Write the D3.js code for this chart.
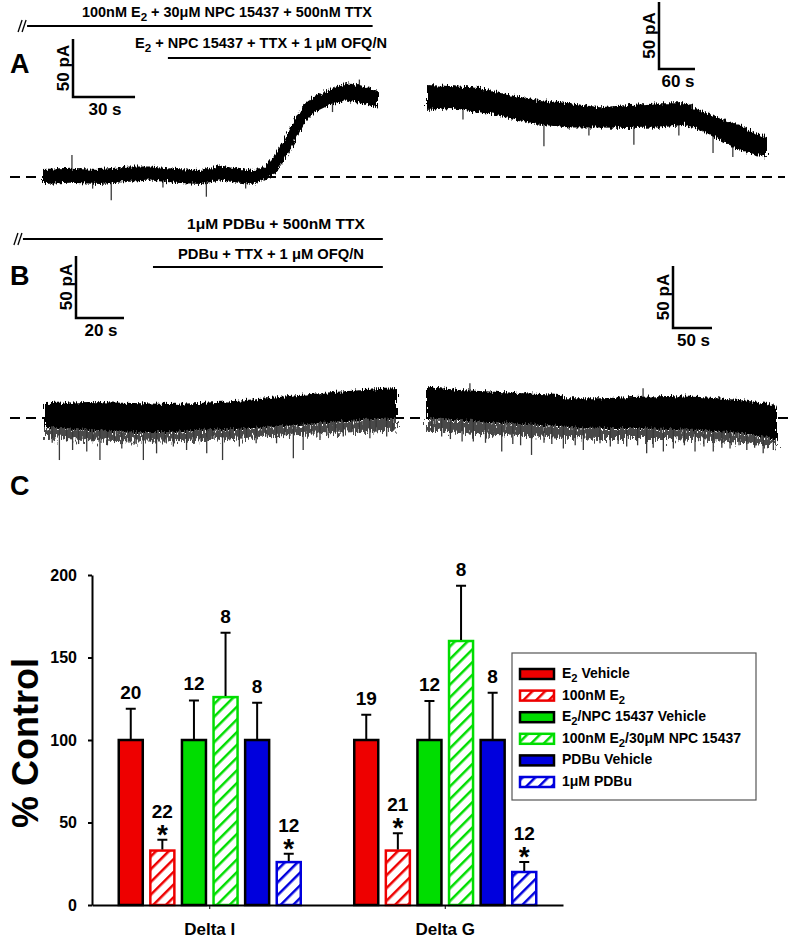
<!DOCTYPE html>
<html>
<head>
<meta charset="utf-8">
<script src="https://cdn.jsdelivr.net/npm/d3@7"></script>
<style>
body { margin: 0; background: #fff; }
svg text { font-family: Arial, "Liberation Sans", sans-serif; font-weight: bold; fill: #000; }
</style>
</head>
<body>
<script>
// ---- panel A traces (time in s, current in pA) ----
var a1Time = [0, 13, 27.5, 42, 52, 64, 76, 85.5, 95, 102, 107.5, 112.5, 117, 121.5, 126.5, 131.5, 138.5, 146, 153, 162];
var a1Low  = [-6, -5, -6, -4, -3, -5, -6, -3, -5, -6, -2, 4, 15, 30, 47, 56, 62, 66, 64, 60];
var a1High = [7, 8, 7, 9, 9, 7, 6, 10, 7, 6, 9, 20, 33, 50, 63, 70, 75, 81, 79, 74];
var a1SpikeTime = [14, 33, 79, 153, 24, 58, 98, 140];
var a1SpikeAmp  = [19, -20, -17, 84, -10, -9, -10, 56];

var a2Time = [0, 38, 88, 138, 188, 238, 288, 338, 388, 430, 455, 488, 522, 547, 567];
var a2Low  = [50, 51.5, 48.5, 44, 39, 37, 37, 36.6, 37, 39, 35, 27.6, 20, 16.4, 15];
var a2High = [68.7, 68, 66.4, 61, 57.5, 55, 52, 53.7, 55, 55, 50, 44, 38.8, 32.8, 30.6];
var a2SpikeTime = [195, 345, 477, 510, 60, 270, 420];
var a2SpikeAmp  = [23, 24, 18, 15, 43, 31, 31];

// ---- panel B traces ----
var b1Time = [0, 18.75, 36.7, 52, 64.6, 79, 92.5, 106, 120, 133, 146.7];
var b1Low  = [-7.3, -9.7, -11.3, -11.3, -9.7, -8.9, -7.3, -5.6, -3.2, -1.6, 0];
var b1High = [12.1, 12.9, 12, 11.3, 12, 13.7, 16, 18.5, 21, 22.6, 24.2];
var b1Fringe = [-16, -18, -19, -19, -18, -17, -15, -13, -12, -11, -10];
var b1SpikeTime = [6, 11.5, 17.4, 22.9, 32, 41, 46.5, 53.5, 59, 67.4, 74, 81, 88, 96.5, 103.5, 107.6, 114.6, 124.3, 135.4, 142.4,
                   3, 9, 14, 20, 26, 29, 35, 38, 44, 50, 56, 62, 65, 70, 77, 84, 92, 100, 111, 118, 121, 128, 131, 138, 145];
var b1SpikeAmp  = [-33.9, -25.8, -27, -33.9, -24.5, -33.9, -28.5, -23, -25.8, -28.5, -33.9, -23, -20.4, -20.4, -32.5, -25.8, -17.7, -15, -16.4, -15,
                   -20, -19, -21, -18, -22, -19, -20, -21, -19, -20, -18, -21, -19, -17, -18, -16, -15, -14, -13, -14, -12, -11, -12, -11, -10];

var b2Time = [0, 42, 93.6, 145, 170.5, 179.5, 222, 264, 307.7, 350, 401, 436, 448.7];
var b2Low  = [0, -1.6, -4, -5.6, -6.5, -7.3, -8, -8, -8.9, -9.7, -12, -15.3, -17.7];
var b2High = [25, 22.6, 21, 19.4, 18.5, 16, 16, 16.9, 17.7, 16.9, 14.5, 12.1, 8];
var b2Fringe = [-10, -12, -14, -15, -16, -16, -17, -17, -17, -18, -20, -22, -23];
var b2SpikeTime = [6, 18.8, 59.4, 95.8, 134, 174.8, 200.4, 221.8, 256, 281.6, 303, 315.8, 343.6, 367, 388.5, 410, 431, 444,
                   30, 45, 75, 110, 120, 150, 160, 190, 235, 245, 270, 290, 330, 355, 378, 400, 420, 55, 277];
var b2SpikeAmp  = [-11, -15, -19, -27, -29.8, -24.5, -25.8, -20.4, -23, -28.5, -27, -24.5, -27, -27, -24.5, -25.8, -28.5, -25.8,
                   -17, -19, -20, -21, -22, -20, -21, -22, -23, -21, -22, -24, -22, -23, -24, -22, -24, 28, 24];

// drug application bars (s on each left trace's time axis)
var aDrugStart = [-7.7, 60.4];
var aDrugEnd   = [159.4, 158.5];
var aDrugLabel = ["100nM E2 + 30μM NPC 15437 + 500nM TTX", "E2 + NPC 15437 + TTX + 1 μM OFQ/N"];
var bDrugStart = [-9.2, 45];
var bDrugEnd   = [140.8, 140.8];
var bDrugLabel = ["1μM PDBu + 500nM TTX", "PDBu + TTX + 1 μM OFQ/N"];

// ---- panel C bar chart ----
var groups = ["Delta I", "Delta G"];
var conditions = ["E2 Vehicle", "100nM E2", "E2/NPC 15437 Vehicle", "100nM E2/30μM NPC 15437", "PDBu Vehicle", "1μM PDBu"];
var deltaIMean = [100, 33, 100, 126, 100, 26];
var deltaIErr  = [19, 6.5, 24, 39, 22.6, 5];
var deltaIN    = ["20", "22", "12", "8", "8", "12"];
var deltaGMean = [100, 33, 100, 160, 100, 20];
var deltaGErr  = [15.3, 10.5, 23.6, 33.5, 28.7, 6];
var deltaGN    = ["19", "21", "12", "8", "8", "12"];
var significant = [false, true, false, false, false, true];
var yTicks = [0, 50, 100, 150, 200];

var colors = ["#ee0000", "#ee0000", "#00dd00", "#00dd00", "#0000dd", "#0000dd"];
var hatched = [false, true, false, true, false, true];

var width = 800, height = 939;
var svg = d3.select("body").append("svg").attr("width", width).attr("height", height);

// text with E2 -> E + subscript 2
function richText(sel, str, fs) {
	var shifted = false;
	str.split(/(E2)/).forEach(function(p) {
		if (p === "") return;
		if (p === "E2") {
			var e = sel.append("tspan").text("E");
			if (shifted) e.attr("dy", -fs * 0.3);
			sel.append("tspan").attr("font-size", fs * 0.8).attr("dy", fs * 0.3).text("2");
			shifted = true;
		} else {
			var t = sel.append("tspan").text(p);
			if (shifted) { t.attr("dy", -fs * 0.3); shifted = false; }
		}
	});
}

var defs = svg.append("defs");
// hatch patterns
["#ee0000", "#00dd00", "#0000dd"].forEach(function(c, i) {
	defs.append("pattern")
		.attr("id", "hatch" + i)
		.attr("patternUnits", "userSpaceOnUse")
		.attr("width", 9).attr("height", 9)
		.attr("patternTransform", "rotate(45)")
		.append("line")
			.attr("x1", 0).attr("y1", 0).attr("x2", 0).attr("y2", 9)
			.attr("stroke", c).attr("stroke-width", 5);
});
function fillFor(i) {
	return hatched[i] ? "url(#hatch" + Math.floor(i / 2) + ")" : colors[i];
}
// rough edge look for the recorded traces
function roughFilter(id, scale) {
	var f = defs.append("filter").attr("id", id)
		.attr("x", "-5%").attr("y", "-60%").attr("width", "110%").attr("height", "220%");
	f.append("feTurbulence").attr("type", "fractalNoise").attr("baseFrequency", "0.9 0.12")
		.attr("numOctaves", 2).attr("seed", 4).attr("result", "n");
	f.append("feDisplacementMap").attr("in", "SourceGraphic").attr("in2", "n")
		.attr("scale", scale).attr("xChannelSelector", "R").attr("yChannelSelector", "G");
}
roughFilter("rough", 8);
roughFilter("rougher", 18);

// ---------- traces ----------
function drawTrace(xs, ys, time, low, high, spT, spA, fringe) {
	var mid = d3.scaleLinear().domain(time).range(time.map(function(t, i) { return (low[i] + high[i]) / 2; })).clamp(true);
	if (fringe) {
		svg.append("path")
			.datum(time)
			.attr("d", d3.area()
				.x(function(d) { return xs(d); })
				.y0(function(d, i) { return ys(fringe[i]); })
				.y1(function(d, i) { return ys(low[i]); }))
			.attr("fill", "#4a4a4a")
			.attr("filter", "url(#rougher)");
	}
	svg.append("g").selectAll("line")
		.data(spT)
		.enter()
			.append("line")
			.attr("x1", function(d) { return xs(d); })
			.attr("x2", function(d) { return xs(d); })
			.attr("y1", function(d) { return ys(mid(d)); })
			.attr("y2", function(d, i) { return ys(spA[i]); })
			.attr("stroke", "#3a3a3a")
			.attr("stroke-width", 1.3);
	var area = d3.area()
		.x(function(d) { return xs(d); })
		.y0(function(d, i) { return ys(low[i]); })
		.y1(function(d, i) { return ys(high[i]); });
	svg.append("path")
		.datum(time)
		.attr("d", area)
		.attr("fill", "#000")
		.attr("filter", "url(#rough)");
}

function dashedBase(y, x1, x2) {
	svg.append("line")
		.attr("x1", x1).attr("x2", x2).attr("y1", y).attr("y2", y)
		.attr("stroke", "#000").attr("stroke-width", 2)
		.attr("stroke-dasharray", "10,6");
}

function scaleBar(x, y, xs, ys, dt, di, tLabel, iLabel) {
	var w = xs(dt) - xs(0), h = ys(0) - ys(di);
	svg.append("path")
		.attr("d", "M" + x + "," + (y - h) + "V" + y + "H" + (x + w))
		.attr("fill", "none").attr("stroke", "#000").attr("stroke-width", 2.5);
	svg.append("text")
		.attr("transform", "translate(" + (x - 4) + "," + (y - h / 2) + ") rotate(-90)")
		.attr("text-anchor", "middle").attr("font-size", 17).text(iLabel);
	svg.append("text")
		.attr("x", x + w / 2 + 1).attr("y", y + 18)
		.attr("text-anchor", "middle").attr("font-size", 17).text(tLabel);
}

function drugBars(xs, starts, ends, labels, yLine, yText, xText, wText) {
	starts.forEach(function(s, i) {
		svg.append("line")
			.attr("x1", xs(s)).attr("x2", xs(ends[i]))
			.attr("y1", yLine[i]).attr("y2", yLine[i])
			.attr("stroke", "#000").attr("stroke-width", 2);
		var t = svg.append("text")
			.attr("x", xText[i] - wText[i] / 2)
			.attr("y", yText[i])
			.attr("textLength", wText[i])
			.attr("lengthAdjust", "spacingAndGlyphs")
			.attr("font-size", 14);
		richText(t, labels[i], 14);
	});
	// break marks
	var x0 = xs(starts[0]);
	[-9, -5].forEach(function(dx) {
		svg.append("line")
			.attr("x1", x0 + dx).attr("y1", yLine[0] + 6)
			.attr("x2", x0 + dx + 4).attr("y2", yLine[0] - 6)
			.attr("stroke", "#000").attr("stroke-width", 1.3);
	});
}

// A
var xA1 = d3.scaleLinear().domain([0, 162]).range([43, 378]);
var yA1 = d3.scaleLinear().domain([0, 50]).range([177, 119]);
var xA2 = d3.scaleLinear().domain([0, 567]).range([427, 767]);
var yA2 = d3.scaleLinear().domain([0, 50]).range([177, 110]);
dashedBase(yA1(0), 10, 785);
drawTrace(xA1, yA1, a1Time, a1Low, a1High, a1SpikeTime, a1SpikeAmp);
drawTrace(xA2, yA2, a2Time, a2Low, a2High, a2SpikeTime, a2SpikeAmp);
scaleBar(73, 97, xA1, yA1, 30, 50, "30 s", "50 pA");
scaleBar(659, 69, xA2, yA2, 60, 50, "60 s", "50 pA");
drugBars(xA1, aDrugStart, aDrugEnd, aDrugLabel, [26, 58], [17, 48], [227, 261], [290, 252]);

// B
var xB1 = d3.scaleLinear().domain([0, 146.7]).range([45, 397]);
var yB1 = d3.scaleLinear().domain([0, 50]).range([418, 356]);
var xB2 = d3.scaleLinear().domain([0, 448.7]).range([427, 777]);
var yB2 = d3.scaleLinear().domain([0, 50]).range([418, 356]);
dashedBase(yB1(0), 10, 790);
drawTrace(xB1, yB1, b1Time, b1Low, b1High, b1SpikeTime, b1SpikeAmp, b1Fringe);
drawTrace(xB2, yB2, b2Time, b2Low, b2High, b2SpikeTime, b2SpikeAmp, b2Fringe);
scaleBar(76, 318, xB1, yB1, 20, 50, "20 s", "50 pA");
scaleBar(673, 328, xB2, yB2, 50, 50, "50 s", "50 pA");
drugBars(xB1, bDrugStart, bDrugEnd, bDrugLabel, [239, 267], [229, 259], [276, 271], [178, 186]);

// panel letters
[["A", 73], ["B", 285], ["C", 495]].forEach(function(p) {
	svg.append("text").attr("x", 10).attr("y", p[1]).attr("font-size", 27).text(p[0]);
});

// ---------- panel C ----------
var x0 = d3.scaleBand().domain(groups).range([92, 563]);
var x1 = d3.scaleBand().domain(conditions).range([-91, 91]).paddingInner(0.24);
var y = d3.scaleLinear().domain([0, 200]).range([905, 575]);

var bars = [];
groups.forEach(function(g, gi) {
	var m = gi === 0 ? deltaIMean : deltaGMean;
	var e = gi === 0 ? deltaIErr : deltaGErr;
	var n = gi === 0 ? deltaIN : deltaGN;
	conditions.forEach(function(c, ci) {
		bars.push({ group: g, cond: c, ci: ci, mean: m[ci], err: e[ci], n: n[ci], sig: significant[ci] });
	});
});
function bx(d) { return x0(d.group) + x0.bandwidth() / 2 + x1(d.cond); }

var chart = svg.append("g");
chart.selectAll("rect.bar")
	.data(bars)
	.enter()
		.append("rect")
		.attr("class", "bar")
		.attr("x", bx)
		.attr("y", function(d) { return y(d.mean); })
		.attr("width", x1.bandwidth())
		.attr("height", function(d) { return y(0) - y(d.mean); })
		.attr("fill", function(d) { return fillFor(d.ci); })
		.attr("stroke", function(d) { return hatched[d.ci] ? colors[d.ci] : "#000"; })
		.attr("stroke-width", 2.5);

// error bars (upper only)
chart.selectAll("path.err")
	.data(bars)
	.enter()
		.append("path")
		.attr("class", "err")
		.attr("d", function(d) {
			var cx = bx(d) + x1.bandwidth() / 2, top = y(d.mean + d.err);
			return "M" + cx + "," + (y(d.mean) - 1) + "V" + top + "M" + (cx - 5) + "," + top + "H" + (cx + 5);
		})
		.attr("fill", "none").attr("stroke", "#000").attr("stroke-width", 2);

chart.selectAll("text.n")
	.data(bars)
	.enter()
		.append("text")
		.attr("class", "n")
		.attr("x", function(d) { return bx(d) + x1.bandwidth() / 2; })
		.attr("y", function(d) { return y(d.mean + d.err) - (d.sig ? 22 : 10); })
		.attr("text-anchor", "middle").attr("font-size", 19)
		.text(function(d) { return d.n; });

chart.selectAll("text.star")
	.data(bars.filter(function(d) { return d.sig; }))
	.enter()
		.append("text")
		.attr("class", "star")
		.attr("x", function(d) { return bx(d) + x1.bandwidth() / 2; })
		.attr("y", function(d) { return y(d.mean + d.err) + 4; })
		.attr("text-anchor", "middle").attr("font-size", 28)
		.text("*");

var yAxis = d3.axisLeft(y).tickValues(yTicks).tickSize(4).tickSizeOuter(0).tickPadding(11);
var gy = svg.append("g").attr("transform", "translate(92,0)").call(yAxis);
gy.selectAll("text").attr("font-size", 16).attr("font-family", null);
gy.select(".domain").attr("stroke-width", 2);
gy.selectAll(".tick line").attr("stroke-width", 2);

var xAxis = d3.axisBottom(x0).tickSize(4).tickSizeOuter(0).tickPadding(14);
var gx = svg.append("g").attr("transform", "translate(0,905)").call(xAxis);
gx.selectAll("text").attr("font-size", 17).attr("font-family", null);
gx.select(".domain").attr("stroke-width", 2);

svg.append("text")
	.attr("transform", "translate(38,743) rotate(-90)")
	.attr("text-anchor", "middle").attr("font-size", 36)
	.text("% Control");

// legend
var legend = svg.append("g");
legend.append("rect")
	.attr("x", 512).attr("y", 653).attr("width", 244).attr("height", 147)
	.attr("fill", "#fff").attr("stroke", "#555").attr("stroke-width", 1.2);
conditions.forEach(function(c, i) {
	var cy = 674 + i * 21.6;
	legend.append("rect")
		.attr("x", 520).attr("y", cy - 5).attr("width", 34).attr("height", 10)
		.attr("fill", fillFor(i))
		.attr("stroke", hatched[i] ? colors[i] : "#000").attr("stroke-width", 2.5);
	var t = legend.append("text").attr("x", 562).attr("y", cy + 4).attr("font-size", 14);
	richText(t, c, 14);
});
</script>
</body>
</html>
